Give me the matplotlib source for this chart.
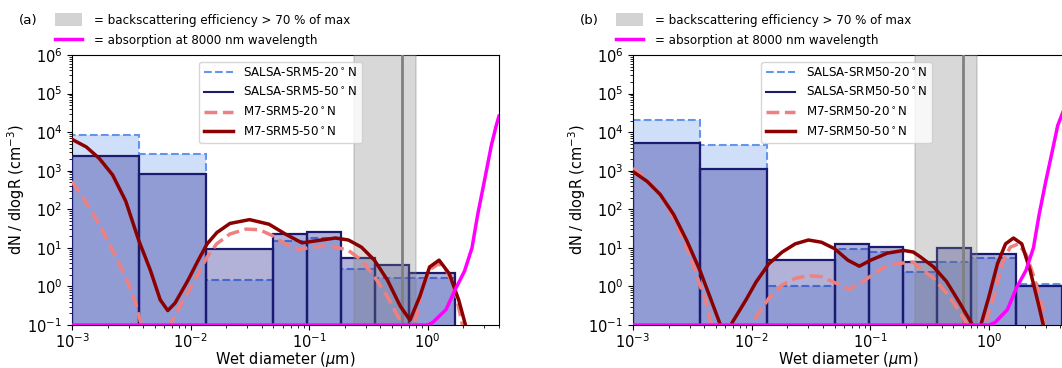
import matplotlib
matplotlib.use("Agg")
import matplotlib.pyplot as plt
from matplotlib.lines import Line2D
from matplotlib.patches import Patch
import numpy as np

plt.rcParams["font.size"] = 10.5

# SALSA bin edges (wet diameter, um)
edges = [1e-3, 3.68e-3, 1.357e-2, 5e-2, 9.67e-2, 0.187, 0.362, 0.7, 1.70, 4.13]

# panel (a): SRM5
salsa_a_20 = [8300, 2700, 1.5, 15, 18, 2.9, 1.68, 1.65, 0.01]
salsa_a_50 = [2440, 820, 9.5, 22.5, 25.5, 5.6, 3.55, 2.2, 0.01]

m7_a_50_d = [1.0e-3, 1.32e-3, 1.7e-3, 2.2e-3, 2.84e-3, 3.66e-3, 4.58e-3, 5.55e-3, 6.43e-3,
             7.4e-3, 9.55e-3, 1.15e-2, 1.38e-2, 1.67e-2, 2.15e-2, 3.15e-2, 4.6e-2, 6.3e-2,
             8.7e-2, 0.128, 0.167, 0.215, 0.277, 0.356, 0.458, 0.589, 0.711, 0.86, 1.04,
             1.25, 1.52, 1.83, 2.08, 2.4]
m7_a_50 = [6500, 4140, 2080, 780, 163, 15.5, 2.64, 0.45, 0.237,
           0.37, 1.47, 4.5, 12.7, 25, 43, 54, 41, 22.9,
           13.5, 16, 18, 16, 10.4, 4.8, 1.47, 0.306, 0.134, 0.55, 3.2,
           4.8, 2.17, 0.45, 0.105, 0.01]

m7_a_20_d = [1.0e-3, 1.32e-3, 1.7e-3, 2.2e-3, 2.84e-3, 3.44e-3, 3.77e-3, 5.2e-3, 6.9e-3,
             8.4e-3, 1.09e-2, 1.38e-2, 1.66e-2, 2.15e-2, 2.95e-2, 3.81e-2, 4.92e-2, 6.3e-2,
             8.2e-2, 0.106, 0.145, 0.19, 0.215, 0.277, 0.356, 0.458, 0.571, 0.68, 0.807,
             0.916, 1.07, 1.25, 1.47, 1.72, 1.95, 2.3]
m7_a_20 = [530, 148, 41, 8.6, 1.79, 0.37, 0.126, 0.01, 0.115,
           0.37, 1.47, 5.8, 12.7, 22.9, 30.7, 29.5, 20.7, 12.7,
           9.1, 10.4, 11.5, 9.5, 8.6, 4.8, 1.8, 0.55, 0.154, 0.04, 0.17,
           1.21, 2.9, 3.9, 2.4, 0.67, 0.115, 0.005]

absorb_a_d = [1e-3, 1.0, 1.1, 1.43, 1.7, 2.05, 2.37, 2.65, 3.0, 3.45, 3.8, 4.0]
absorb_a = [0.1, 0.1, 0.115, 0.25, 0.8, 2.5, 10, 74, 500, 4500, 15000, 26000]

# panel (b): SRM50
salsa_b_20 = [20600, 4730, 1.05, 9.5, 7.6, 2.3, 4.2, 5.5, 1.13]
salsa_b_50 = [5330, 1110, 4.85, 12.6, 10.8, 4.25, 10.2, 7.1, 1.02]

m7_b_50_d = [1.0e-3, 1.32e-3, 1.7e-3, 2.2e-3, 2.84e-3, 3.66e-3, 4.44e-3, 5.37e-3, 6.1e-3,
             6.85e-3, 8.97e-3, 1.09e-2, 1.4e-2, 1.81e-2, 2.33e-2, 3.01e-2, 3.88e-2, 5.01e-2,
             6.47e-2, 8.08e-2, 0.101, 0.139, 0.191, 0.23, 0.265, 0.342, 0.44, 0.568, 0.709,
             0.78, 0.857, 1.0, 1.18, 1.38, 1.61, 1.89, 2.22, 2.6, 2.86, 3.2]
m7_b_50 = [950, 527, 241, 74, 15.5, 2.65, 0.55, 0.115, 0.03,
           0.115, 0.45, 1.3, 3.9, 7.8, 12.7, 16, 14, 9.5,
           4.8, 3.35, 4.8, 7.3, 8.6, 7.8, 5.8, 3.2, 1.33, 0.37, 0.115,
           0.06, 0.104, 0.55, 3.9, 12.7, 18, 12.7, 2.65, 0.37, 0.105, 0.005]

m7_b_20_d = [1.0e-3, 1.32e-3, 1.7e-3, 2.2e-3, 2.84e-3, 3.55e-3, 4.16e-3, 4.5e-3, 6.5e-3,
             9.86e-3, 1.09e-2, 1.4e-2, 1.81e-2, 2.33e-2, 3.01e-2, 3.88e-2, 5.01e-2, 6.67e-2,
             8.3e-2, 0.108, 0.139, 0.191, 0.23, 0.265, 0.342, 0.44, 0.55, 0.644, 0.78,
             0.94, 1.1, 1.29, 1.51, 1.77, 2.08, 2.44, 2.86, 3.2]
m7_b_20 = [1160, 582, 241, 61, 10.4, 1.47, 0.37, 0.126, 0.005,
           0.115, 0.16, 0.5, 1.09, 1.62, 1.9, 1.79, 1.26, 0.85,
           1.21, 2.17, 3.55, 4.07, 4.3, 2.9, 1.62, 0.67, 0.25, 0.115, 0.02,
           0.115, 0.55, 3.9, 10.4, 12.7, 6.4, 1.47, 0.25, 0.005]

absorb_b_d = [1e-3, 1.0, 1.12, 1.43, 1.7, 2.05, 2.37, 2.65, 3.0, 3.45, 3.8, 4.3]
absorb_b = [0.1, 0.1, 0.115, 0.25, 0.9, 2.6, 10, 74, 500, 3700, 15000, 40000]

bsc_lo, bsc_hi, bsc_peak = 0.24, 0.80, 0.61

panels = [
    ("(a)", "5", salsa_a_20, salsa_a_50, m7_a_20_d, m7_a_20, m7_a_50_d, m7_a_50, absorb_a_d, absorb_a),
    ("(b)", "50", salsa_b_20, salsa_b_50, m7_b_20_d, m7_b_20, m7_b_50_d, m7_b_50, absorb_b_d, absorb_b),
]

fig = plt.figure(figsize=(10.62, 3.68), dpi=100)
positions = [[0.0678, 0.1168, 0.402, 0.7337], [0.596, 0.1168, 0.406, 0.7337]]
xmax = [4.0, 4.3]
leg_fs = 8.6

e = np.array(edges)
widths = e[1:] - e[:-1]

for i, (tag, srm, s20, s50, d20, m20, d50, m50, ad, av) in enumerate(panels):
    ax = fig.add_axes(positions[i])
    ax.set_xscale("log")
    ax.set_yscale("log")

    ax.bar(e[:-1], np.array(s20) - 1e-3, width=widths, bottom=1e-3, align="edge",
           facecolor=(100/255, 149/255, 237/255, 0.3), edgecolor="cornflowerblue",
           linestyle="--", linewidth=1.5, zorder=2)
    ax.bar(e[:-1], np.array(s50) - 1e-3, width=widths, bottom=1e-3, align="edge",
           facecolor=(0, 0, 0.5, 0.3), edgecolor="#1a1a6e", linewidth=1.6, zorder=3)

    ax.axvspan(bsc_lo, bsc_hi, facecolor="gray", edgecolor="gray", alpha=0.3, lw=1.2, zorder=4)
    ax.axvline(bsc_peak, color="gray", lw=2, zorder=4)

    ax.plot(d20, m20, color="lightcoral", ls="--", lw=2.5, zorder=5)
    ax.plot(d50, m50, color="darkred", lw=2.5, zorder=6)
    ax.plot(ad, av, color="magenta", lw=2.5, zorder=7)

    ax.set_xlim(1e-3, xmax[i])
    ax.set_ylim(1e-1, 1e6)
    ax.tick_params(axis="x", pad=2)
    ax.set_xlabel(r"Wet diameter ($\mu$m)", labelpad=-1)
    ax.set_ylabel(r"dN / dlogR (cm$^{-3}$)", labelpad=0)

    handles = [
        Line2D([], [], color="cornflowerblue", ls="--", lw=1.5),
        Line2D([], [], color="#1a1a6e", lw=1.5),
        Line2D([], [], color="lightcoral", ls="--", lw=2.5),
        Line2D([], [], color="darkred", lw=2.5),
    ]
    labels = [
        "SALSA-SRM%s-20$^\\circ$N" % srm,
        "SALSA-SRM%s-50$^\\circ$N" % srm,
        "M7-SRM%s-20$^\\circ$N" % srm,
        "M7-SRM%s-50$^\\circ$N" % srm,
    ]
    leg = ax.legend(handles, labels, loc="upper left", bbox_to_anchor=(0.298, 0.975),
                    borderaxespad=0, fontsize=leg_fs, labelspacing=0.55,
                    handlelength=2.4, handletextpad=0.9)
    ax.add_artist(leg)

    top_handles = [Patch(facecolor="lightgray", edgecolor="none"),
                   Line2D([], [], color="magenta", lw=2.5)]
    top_labels = ["= backscattering efficiency > 70 % of max",
                  "= absorption at 8000 nm wavelength"]
    ax.legend(top_handles, top_labels, loc="lower left", bbox_to_anchor=(-0.04, 1.03),
              frameon=False, borderpad=0, borderaxespad=0, labelspacing=0.6,
              handlelength=2.3, handleheight=1.2, handletextpad=1.0, fontsize=leg_fs)

    fig.text(positions[i][0] - 0.05, 0.945, tag, fontsize=leg_fs + 1, va="center")

fig.savefig("out.png", dpi=100)
